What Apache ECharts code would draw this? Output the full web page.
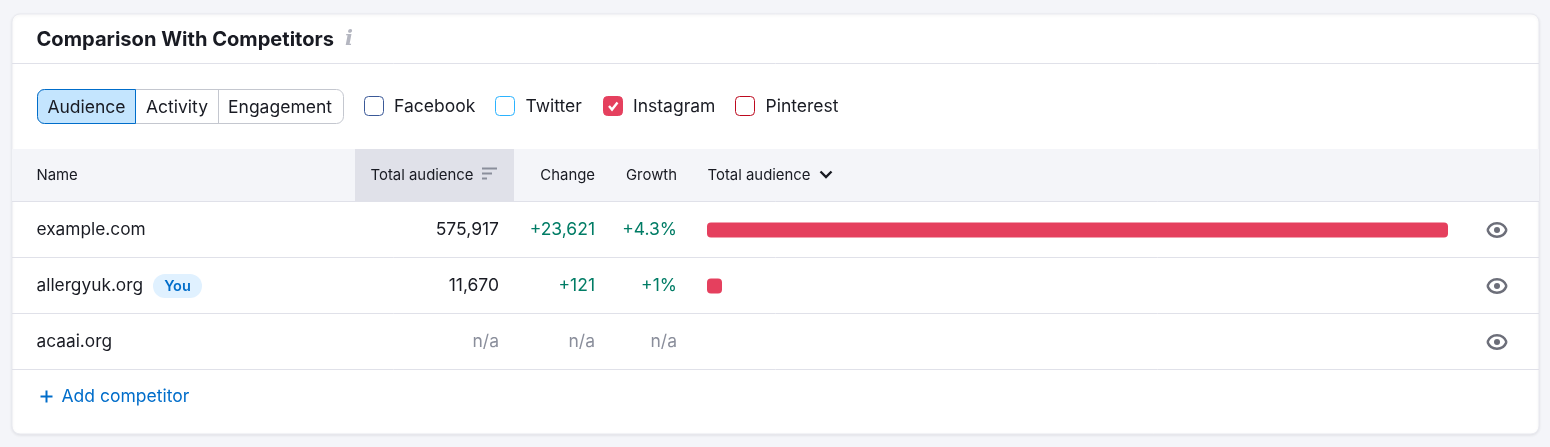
<!DOCTYPE html>
<html>
<head>
<meta charset="utf-8">
<title>Comparison With Competitors</title>
<script src="https://cdn.jsdelivr.net/npm/echarts@6/dist/echarts.min.js"></script>
<style>
html, body { margin: 0; padding: 0; background: #f4f5f9; }
#chart { width: 1550px; height: 447px; }
</style>
</head>
<body>
<div id="chart"></div>
<script>
// table data
const names = ['example.com', 'allergyuk.org', 'acaai.org'];
const totals = [575917, 11670, null];
const changes = ['+23,621', '+121', 'n/a'];
const growths = ['+4.3%', '+1%', 'n/a'];

const tabs = ['Audience', 'Activity', 'Engagement'];
const networks = ['Facebook', 'Twitter', 'Instagram', 'Pinterest'];
const networkColors = ['#3b5998', '#2bb3ff', '#e5405e', '#bd0a1f'];
const selectedNetwork = 'Instagram';
const columnTitles = ['Name', 'Total audience', 'Change', 'Growth', 'Total audience'];

const FONT = 'Inter, "Noto Sans", sans-serif';
const INK = '#191b23';
const LINE = '#e0e1e9';
const GREEN = '#007c65';
const GRAY = '#8a8e9b';
const BLUE = '#006dca';
const ROW_TOP = 202;
const ROW_H = 56;
const BODY_SIZE = 17.5;
const HEAD_SIZE = 14.9;

function label(x, y, text, opts) {
	opts = opts || {};
	return {
		type: 'text',
		x: x,
		y: y,
		z: 5,
		style: {
			text: text,
			fill: opts.fill || INK,
			font: (opts.weight || 400) + ' ' + (opts.size || BODY_SIZE) + 'px ' + FONT,
			align: opts.align || 'left',
			verticalAlign: 'middle'
		}
	};
}

function rect(x, y, width, height, fill, stroke, r, z) {
	return {
		type: 'rect',
		z: z || 1,
		shape: { x: x, y: y, width: width, height: height, r: r || 0 },
		style: { fill: fill, stroke: stroke || null, lineWidth: stroke ? 1 : 0 }
	};
}

function hline(x1, x2, y, color, width) {
	return {
		type: 'line',
		z: 3,
		shape: { x1: x1, y1: y, x2: x2, y2: y },
		style: { stroke: color || LINE, lineWidth: width || 1 }
	};
}

// eye icon: two curves and a pupil
function eye(cx, cy) {
	const lid = (dir) => ({
		type: 'bezierCurve',
		z: 5,
		shape: {
			x1: cx - 9.5, y1: cy,
			x2: cx + 9.5, y2: cy,
			cpx1: cx - 6, cpy1: cy + dir * 9,
			cpx2: cx + 6, cpy2: cy + dir * 9
		},
		style: { fill: 'none', stroke: '#6c6e79', lineWidth: 2.5 }
	});
	return [lid(-1), lid(1), {
		type: 'circle',
		z: 5,
		shape: { cx: cx, cy: cy, r: 3 },
		style: { fill: '#6c6e79' }
	}];
}

let elements = [];

// card
elements.push({
	type: 'rect',
	z: 0,
	shape: { x: 12, y: 14, width: 1527, height: 420, r: 8 },
	style: { fill: '#fff', stroke: '#e9eaf0', lineWidth: 1, shadowBlur: 3, shadowColor: 'rgba(25,27,35,0.08)', shadowOffsetY: 1 }
});

// title
elements.push(label(36.5, 40, 'Comparison With Competitors', { size: 20.1, weight: 700 }));
elements.push({
	type: 'text',
	x: 349,
	y: 40,
	z: 5,
	style: { text: 'i', fill: '#b4b6c0', font: 'italic 700 21px "DejaVu Serif", serif', align: 'center', verticalAlign: 'middle' }
});
elements.push(hline(12, 1539, 63.5));

// tab switcher
const tabEdges = [37, 136, 218, 342];
elements.push(rect(37.5, 89.5, 306, 34, '#fff', '#c4c7cf', 7, 2));
elements.push({ type: 'line', z: 3, shape: { x1: 218.5, y1: 90, x2: 218.5, y2: 124 }, style: { stroke: '#c4c7cf', lineWidth: 1 } });
elements.push({
	type: 'rect',
	z: 3,
	shape: { x: 37.5, y: 89.5, width: 98, height: 34, r: [7, 0, 0, 7] },
	style: { fill: '#c4e5fe', stroke: BLUE, lineWidth: 1 }
});
tabs.forEach((tab, i) => {
	elements.push(label((tabEdges[i] + tabEdges[i + 1]) / 2, 107.5, tab, { align: 'center' }));
});

// network checkboxes
const checkX = [364, 495, 603, 735];
networks.forEach((network, i) => {
	const on = network === selectedNetwork;
	elements.push(rect(checkX[i] + 0.5, 96.5, 19, 19, on ? networkColors[i] : '#fff', networkColors[i], 4, 3));
	elements.push(label(checkX[i] + (i === 0 || i === 2 ? 30 : 30.5), 106.5, network));
	if (on) {
		elements.push({
			type: 'polyline',
			z: 5,
			shape: { points: [[checkX[i] + 6, 106], [checkX[i] + 9, 109.5], [checkX[i] + 14.5, 102.5]] },
			style: { fill: 'none', stroke: '#fff', lineWidth: 2.4 }
		});
	}
});

// table header
elements.push(rect(12, 149, 1527, 53, '#f4f5f9'));
elements.push(rect(355, 149, 159, 53, LINE, null, 0, 2));
elements.push(hline(12, 1539, 201.5));
elements.push(label(36.5, 175.5, columnTitles[0], { size: HEAD_SIZE }));
elements.push(label(370.5, 175.5, columnTitles[1], { size: HEAD_SIZE }));
elements.push(label(595, 175.5, columnTitles[2], { size: HEAD_SIZE, align: 'right' }));
elements.push(label(677, 175.5, columnTitles[3], { size: HEAD_SIZE, align: 'right' }));
elements.push(label(707.5, 175.5, columnTitles[4], { size: HEAD_SIZE }));
[[482, 497, 168.5], [482, 492, 173.5], [482, 487, 178.5]].forEach((s) => {
	elements.push({
		type: 'line',
		z: 5,
		shape: { x1: s[0], y1: s[2], x2: s[1], y2: s[2] },
		style: { stroke: '#8a8e9b', lineWidth: 2 }
	});
});
elements.push({
	type: 'polyline',
	z: 5,
	shape: { points: [[820.5, 171.5], [826, 177], [831.5, 171.5]] },
	style: { fill: 'none', stroke: INK, lineWidth: 2.4 }
});

// table rows
names.forEach((name, i) => {
	const cy = ROW_TOP + ROW_H * i + ROW_H / 2;
	const na = totals[i] === null;
	elements.push(label(36.5, cy, name, { size: 17.3 }));
	elements.push(label(499, cy, na ? 'n/a' : totals[i].toLocaleString('en-US'), { align: 'right', fill: na ? GRAY : INK }));
	elements.push(label(595, cy, changes[i], { align: 'right', fill: na ? GRAY : GREEN }));
	elements.push(label(677, cy, growths[i], { align: 'right', fill: na ? GRAY : GREEN }));
	elements.push(hline(12, 1539, ROW_TOP + ROW_H * (i + 1) - 0.5));
	elements = elements.concat(eye(1497, cy));
});

// "You" badge
elements.push(rect(153, 274, 49, 24, '#e0f1ff', null, 12, 3));
elements.push(label(177.5, 286.5, 'You', { size: 14.5, weight: 600, fill: BLUE, align: 'center' }));

// add competitor
elements.push(hline(40.5, 52.5, 396.5, BLUE, 2));
elements.push({ type: 'line', z: 5, shape: { x1: 46.5, y1: 390.5, x2: 46.5, y2: 402.5 }, style: { stroke: BLUE, lineWidth: 2 } });
elements.push(label(61.5, 397, 'Add competitor', { fill: BLUE }));

const myChart = echarts.init(document.getElementById('chart'));
myChart.setOption({
	animation: false,
	backgroundColor: '#f4f5f9',
	grid: { left: 707, right: 102, top: ROW_TOP, height: ROW_H * names.length },
	xAxis: {
		type: 'value',
		min: 0,
		max: totals[0],
		show: false
	},
	yAxis: {
		type: 'category',
		inverse: true,
		data: names,
		show: false
	},
	graphic: { elements: elements },
	series: [{
		type: 'bar',
		data: totals,
		barWidth: 15,
		z: 6,
		itemStyle: { color: '#e5405e', borderRadius: 4 }
	}]
});
</script>
</body>
</html>
